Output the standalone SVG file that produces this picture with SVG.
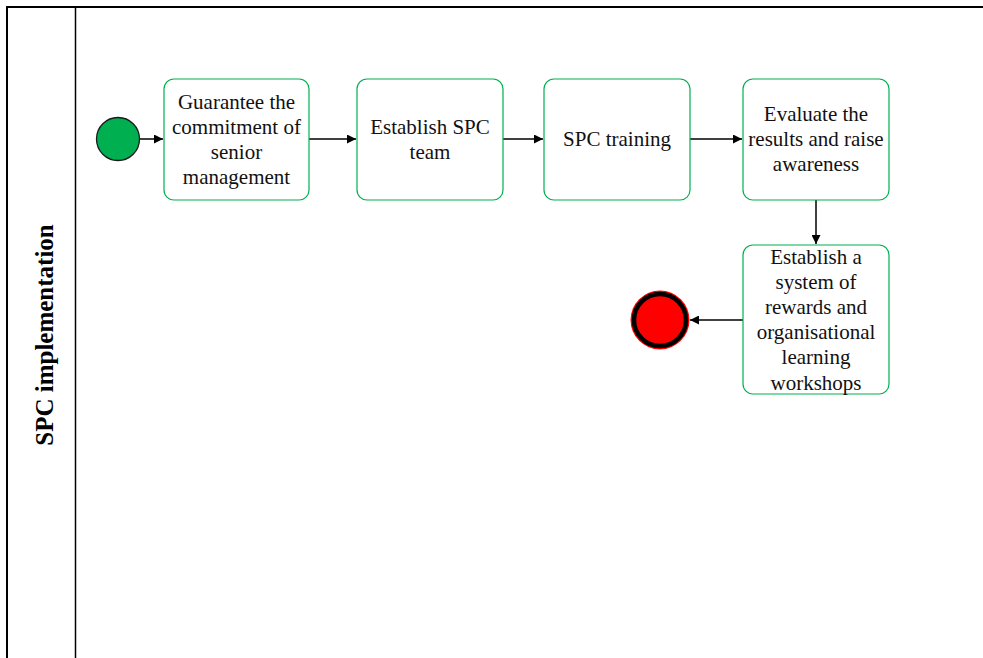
<svg xmlns="http://www.w3.org/2000/svg" width="983" height="658" viewBox="0 0 983 658">
  <style>
    .task { fill: #ffffff; stroke: #00b050; stroke-width: 1.2; }
    .lbl { font-family: "Liberation Serif", "Times New Roman", serif; font-size: 21px; fill: #111111; text-anchor: middle; }
    .pool { fill: none; stroke: #000000; stroke-width: 2; }
    .edge { fill: none; stroke: #000000; stroke-width: 1.5; }
  </style>
  <defs>
    <marker id="arrow" viewBox="0 0 10 10" refX="10" refY="5" markerWidth="9" markerHeight="9" markerUnits="userSpaceOnUse" orient="auto">
      <path d="M0,0 L10,5 L0,10 z" fill="#000000"/>
    </marker>
  </defs>

  <rect width="983" height="658" fill="#ffffff"/>

  <!-- pool and lane header -->
  <g id="pool">
    <path class="pool" d="M7,660 V7 H985"/>
    <line x1="75.5" y1="7" x2="75.5" y2="660" stroke="#000000" stroke-width="1.5"/>
    <text transform="translate(53,335) rotate(-90)" font-family="'Liberation Serif', 'Times New Roman', serif" font-size="25" font-weight="bold" text-anchor="middle" fill="#000000">SPC implementation</text>
  </g>

  <!-- connectors -->
  <g id="connectors">
    <line class="edge" x1="140" y1="139" x2="163" y2="139" marker-end="url(#arrow)"/>
    <line class="edge" x1="309" y1="139" x2="356" y2="139" marker-end="url(#arrow)"/>
    <line class="edge" x1="503" y1="139" x2="543" y2="139" marker-end="url(#arrow)"/>
    <line class="edge" x1="690" y1="139" x2="742" y2="139" marker-end="url(#arrow)"/>
    <line class="edge" x1="816" y1="200" x2="816" y2="244" marker-end="url(#arrow)"/>
    <line class="edge" x1="743" y1="320" x2="690" y2="320" marker-end="url(#arrow)"/>
  </g>

  <g id="start">
    <circle cx="118" cy="139" r="21.5" fill="#00b050" stroke="#1a1a1a" stroke-width="1.3"/>
  </g>

  <g id="task1">
    <rect class="task" x="164" y="79" width="145" height="121" rx="10"/>
    <text class="lbl" x="236.5" y="109">Guarantee the</text>
    <text class="lbl" x="236.5" y="134">commitment of</text>
    <text class="lbl" x="236.5" y="159">senior</text>
    <text class="lbl" x="236.5" y="184">management</text>
  </g>

  <g id="task2">
    <rect class="task" x="357" y="79" width="146" height="121" rx="10"/>
    <text class="lbl" x="430" y="134">Establish SPC</text>
    <text class="lbl" x="430" y="159">team</text>
  </g>

  <g id="task3">
    <rect class="task" x="544" y="79" width="146" height="121" rx="10"/>
    <text class="lbl" x="617" y="146">SPC training</text>
  </g>

  <g id="task4">
    <rect class="task" x="743" y="79" width="146" height="121" rx="10"/>
    <text class="lbl" x="816" y="121">Evaluate the</text>
    <text class="lbl" x="816" y="146">results and raise</text>
    <text class="lbl" x="816" y="171">awareness</text>
  </g>

  <g id="task5">
    <rect class="task" x="743" y="245" width="146" height="149" rx="10"/>
    <text class="lbl" x="816" y="264">Establish a</text>
    <text class="lbl" x="816" y="289">system of</text>
    <text class="lbl" x="816" y="314">rewards and</text>
    <text class="lbl" x="816" y="339">organisational</text>
    <text class="lbl" x="816" y="364">learning</text>
    <text class="lbl" x="816" y="390">workshops</text>
  </g>

  <g id="end">
    <circle cx="660" cy="320" r="29.5" fill="#ff0000"/>
    <circle cx="660" cy="320" r="26" fill="#ff0000" stroke="#000000" stroke-width="4.5"/>
  </g>
</svg>
